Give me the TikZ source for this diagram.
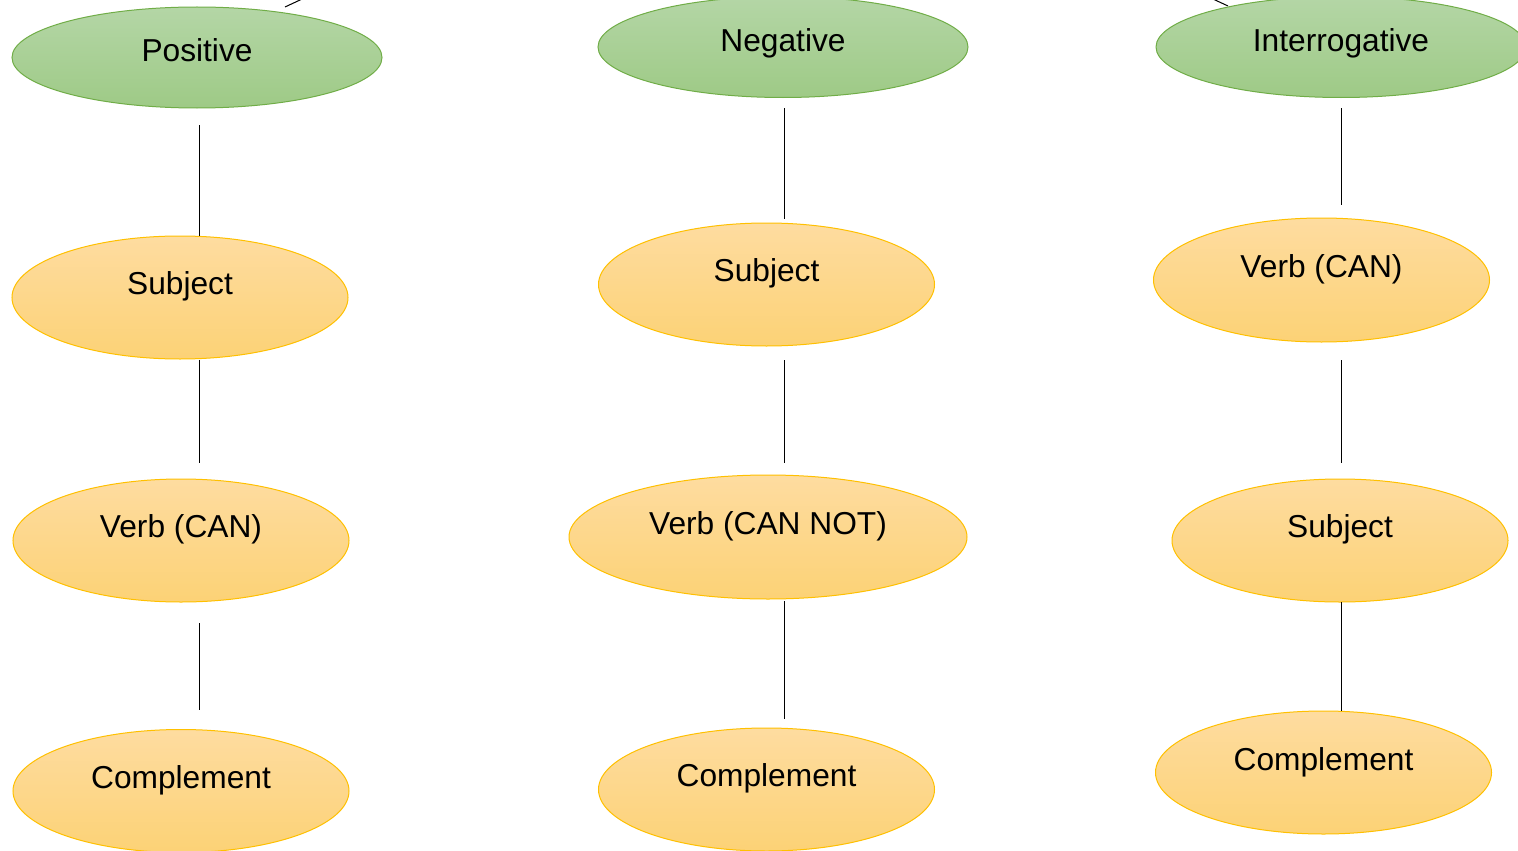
\documentclass[tikz,border=0pt]{standalone}
\usepackage{fontspec}
\setmainfont{Liberation Sans}
\usetikzlibrary{shapes.geometric}
\definecolor{gfill1}{HTML}{B4D6A6}
\definecolor{gfill2}{HTML}{9ECA86}
\definecolor{gdraw}{HTML}{70AD47}
\definecolor{ofill1}{HTML}{FEDCA0}
\definecolor{ofill2}{HTML}{FCD276}
\definecolor{odraw}{HTML}{FFC000}
\tikzset{
  gnode/.style={ellipse, draw=gdraw, line width=1pt, top color=gfill1, bottom color=gfill2, inner sep=0pt, minimum width=370pt, minimum height=101pt},
  onode/.style={ellipse, draw=odraw, line width=1pt, top color=ofill1, bottom color=ofill2, inner sep=0pt, minimum width=336pt, minimum height=123pt},
  txt/.style={font=\fontsize{31.7}{38}\selectfont, inner sep=0pt, text=black},
  conn/.style={draw=black, line width=1pt}
}
\begin{document}
\begin{tikzpicture}[x=1pt,y=-1pt]
\useasboundingbox (0,0) rectangle (1518,851);
\clip (0,0) rectangle (1518,851);
\fill[white] (0,0) rectangle (1518,851);
% top fragments
\coordinate (tl1) at (330,-14);
\coordinate (tl2) at (285,7);
\coordinate (tr1) at (1185,-14);
\coordinate (tr2) at (1228,6);
\draw[conn] (tl1) -- (tl2);
\draw[conn] (tr1) -- (tr2);
% left column
\node[gnode] (pos) at (197,57.5) {};
\node[txt] (posT) at (197,50) {Positive};
\node[onode] (ls) at (180,297.5) {};
\node[txt] (lsT) at (180,286) {Subject};
\node[onode] (lv) at (181,540.5) {};
\node[txt] (lvT) at (181,529) {Verb (CAN)};
\node[onode] (lc) at (181,791) {};
\node[txt] (lcT) at (181,780) {Complement};
% middle column
\node[gnode] (neg) at (783,47) {};
\node[txt] (negT) at (783,43) {Negative};
\node[onode] (ms) at (766.5,284.5) {};
\node[txt] (msT) at (766.5,273) {Subject};
\node[onode, minimum width=398pt, minimum height=124pt] (mv) at (768,537) {};
\node[txt] (mvT) at (768,526) {Verb (CAN NOT)};
\node[onode] (mc) at (766.5,789.5) {};
\node[txt] (mcT) at (766.5,778) {Complement};
% right column
\node[gnode] (int) at (1341,47) {};
\node[txt] (intT) at (1341,43) {Interrogative};
\node[onode, minimum height=124pt] (rv) at (1321.5,280) {};
\node[txt] (rvT) at (1321.5,269) {Verb (CAN)};
\node[onode] (rs) at (1340,540.5) {};
\node[txt] (rsT) at (1340,529) {Subject};
\node[onode] (rc) at (1323.5,772.5) {};
\node[txt] (rcT) at (1323.5,762) {Complement};
% connector endpoints
\coordinate (a1) at (199,125); \coordinate (a2) at (199,236);
\coordinate (a3) at (199,360); \coordinate (a4) at (199,463);
\coordinate (a5) at (199,623); \coordinate (a6) at (199,710);
\coordinate (b1) at (784,108); \coordinate (b2) at (784,219);
\coordinate (b3) at (784,360); \coordinate (b4) at (784,463);
\coordinate (b5) at (784,601); \coordinate (b6) at (784,719);
\coordinate (c1) at (1341,108); \coordinate (c2) at (1341,205);
\coordinate (c3) at (1341,360); \coordinate (c4) at (1341,463);
\coordinate (c5) at (1341,602); \coordinate (c6) at (1341,711);
\draw[conn] (a1) -- (a2); \draw[conn] (a3) -- (a4); \draw[conn] (a5) -- (a6);
\draw[conn] (b1) -- (b2); \draw[conn] (b3) -- (b4); \draw[conn] (b5) -- (b6);
\draw[conn] (c1) -- (c2); \draw[conn] (c3) -- (c4); \draw[conn] (c5) -- (c6);
\end{tikzpicture}
\end{document}
